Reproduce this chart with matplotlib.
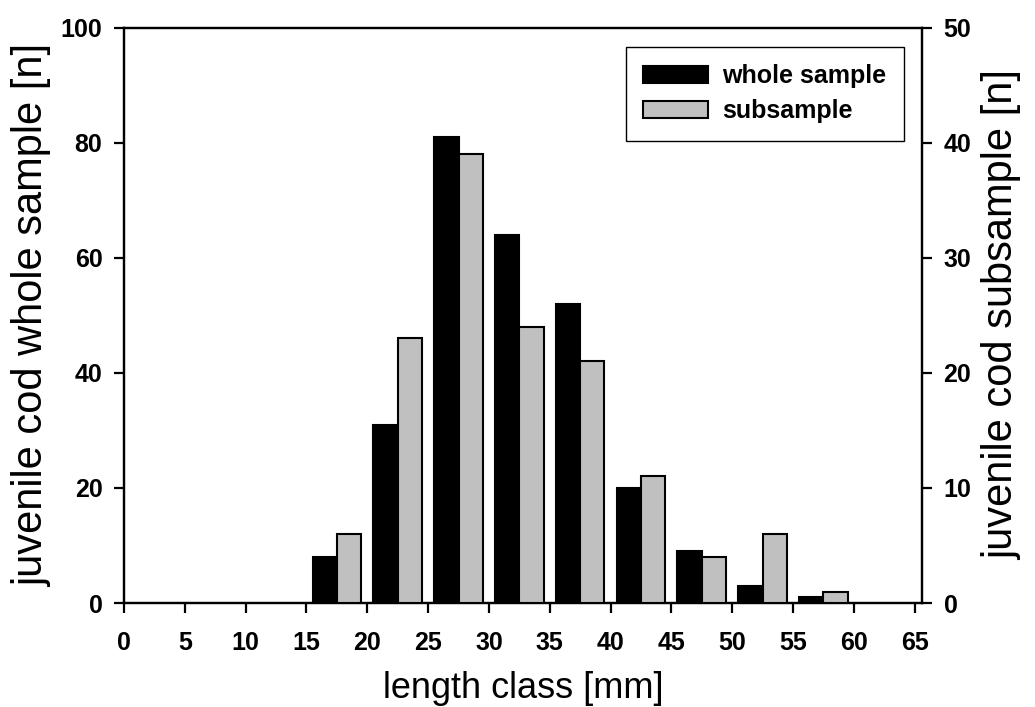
import numpy as np
import matplotlib
matplotlib.use("Agg")
import matplotlib.pyplot as plt

plt.rcParams['font.family'] = ['Liberation Sans', 'DejaVu Sans']

# length classes (lower bound, mm) and counts per class
class_start = [15, 20, 25, 30, 35, 40, 45, 50, 55]
whole_sample = [8, 31, 81, 64, 52, 20, 9, 3, 1]
subsample = [6, 23, 39, 24, 21, 11, 4, 6, 1]

centers = np.array(class_start) + 2.5
bar_w = 2.0

fig = plt.figure(figsize=(10.35, 7.07), dpi=100)
ax = fig.add_axes([0.1198, 0.1471, 0.7710, 0.8133])
ax2 = ax.twinx()

b1 = ax.bar(centers - bar_w / 2, whole_sample, width=bar_w, color='black',
            edgecolor='black', linewidth=1.5, zorder=3)
b2 = ax2.bar(centers + bar_w / 2, subsample, width=bar_w, color='#c0c0c0',
             edgecolor='black', linewidth=1.5, zorder=3)

ax.set_xlim(0, 65.6)
ax.set_ylim(0, 100)
ax2.set_ylim(0, 50)
ax.set_xticks(np.arange(0, 66, 5))
ax.set_yticks(np.arange(0, 101, 20))
ax2.set_yticks(np.arange(0, 51, 10))

for a in (ax, ax2):
    for s in a.spines.values():
        s.set_linewidth(1.6)
    a.tick_params(direction='out', length=7.5, width=1.6, labelsize=18, pad=8)
    for lab in a.get_xticklabels() + a.get_yticklabels():
        lab.set_fontweight('bold')
ax.tick_params(axis='x', pad=13)

ax.set_xlabel('length class [mm]', fontsize=26, labelpad=11)
ax.set_ylabel('juvenile cod whole sample [n]', fontsize=30, labelpad=6)
ax2.set_ylabel('juvenile cod subsample [n]', fontsize=30, labelpad=8,
               rotation=90)

leg = ax.legend([b1, b2], ['whole sample', 'subsample'],
                loc='upper right', bbox_to_anchor=(0.977, 0.9675),
                bbox_transform=ax.transAxes, borderaxespad=0,
                fancybox=False, edgecolor='black', framealpha=1,
                prop={'weight': 'bold', 'size': 18},
                handlelength=2.6, handleheight=0.7, handletextpad=0.55,
                labelspacing=0.45, borderpad=0.7)
leg.get_frame().set_linewidth(1.0)
leg.set_zorder(5)

fig.savefig('out.png', dpi=100)
